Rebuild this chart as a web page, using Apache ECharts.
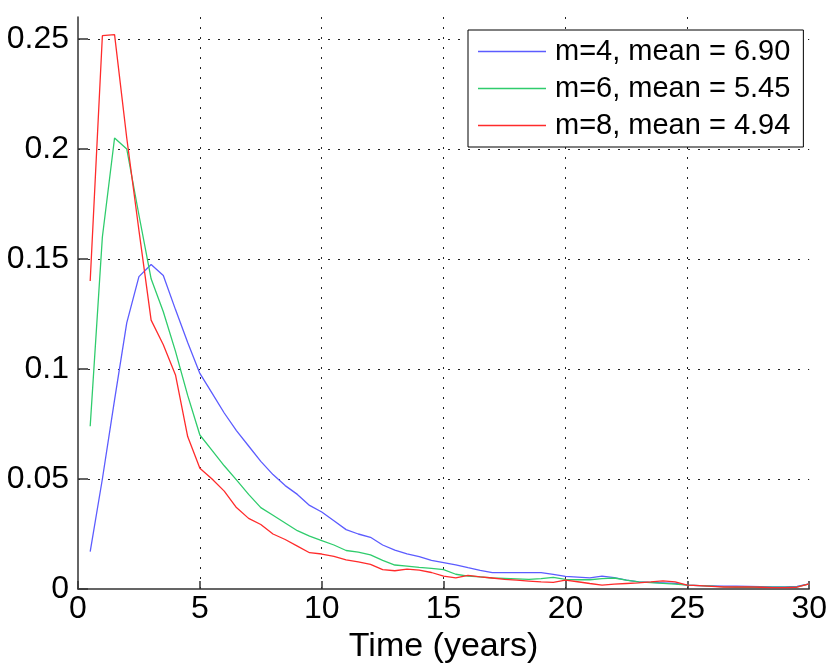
<!DOCTYPE html>
<html>
<head>
<meta charset="utf-8">
<script src="https://cdn.jsdelivr.net/npm/echarts@6/dist/echarts.min.js"></script>
<style>
  html, body { margin: 0; padding: 0; background: #fff; }
  #chart { width: 830px; height: 669px; }
</style>
</head>
<body>
<div id="chart"></div>
<script>
// time points (years), sampled every half year
const times = [0.5, 1, 1.5, 2, 2.5, 3, 3.5, 4, 4.5, 5, 5.5, 6, 6.5, 7, 7.5, 8, 8.5, 9, 9.5, 10,
  10.5, 11, 11.5, 12, 12.5, 13, 13.5, 14, 14.5, 15, 15.5, 16, 16.5, 17, 17.5, 18, 18.5, 19, 19.5, 20,
  20.5, 21, 21.5, 22, 22.5, 23, 23.5, 24, 24.5, 25, 25.5, 26, 26.5, 27, 27.5, 28, 28.5, 29, 29.5, 30]

const seriesNames = ['m=4, mean = 6.90', 'm=6, mean = 5.45', 'm=8, mean = 4.94']

const m4 = [0.017, 0.05, 0.086, 0.121, 0.142, 0.1475, 0.1425, 0.127, 0.112, 0.098,
  0.089, 0.080, 0.072, 0.065, 0.058, 0.052, 0.047, 0.043, 0.038, 0.035,
  0.031, 0.027, 0.025, 0.0235, 0.020, 0.0177, 0.016, 0.0147, 0.013, 0.012,
  0.011, 0.0097, 0.0085, 0.0074, 0.0074, 0.0074, 0.0074, 0.0074, 0.0066, 0.0057,
  0.0054, 0.0051, 0.0059, 0.0052, 0.004, 0.0032, 0.003, 0.0028, 0.0026, 0.0018,
  0.0015, 0.0014, 0.0013, 0.0013, 0.0012, 0.0011, 0.001, 0.001, 0.0012, 0.0023]

const m6 = [0.074, 0.16, 0.205, 0.2, 0.17, 0.141, 0.126, 0.108, 0.088, 0.070,
  0.063, 0.056, 0.0496, 0.043, 0.037, 0.0335, 0.030, 0.0265, 0.024, 0.022,
  0.020, 0.0175, 0.0168, 0.0155, 0.013, 0.0109, 0.0104, 0.0098, 0.0094, 0.0088,
  0.0067, 0.0059, 0.0055, 0.005, 0.0048, 0.0046, 0.0044, 0.0047, 0.0053, 0.0044,
  0.0042, 0.0042, 0.0047, 0.005, 0.004, 0.0032, 0.0029, 0.0026, 0.0022, 0.0018,
  0.0015, 0.0013, 0.001, 0.0008, 0.0008, 0.0008, 0.0008, 0.0008, 0.001, 0.0023]

const m8 = [0.14, 0.2515, 0.252, 0.205, 0.163, 0.1222, 0.111, 0.0973, 0.0693, 0.0549,
  0.050, 0.0445, 0.037, 0.0321, 0.0293, 0.025, 0.0225, 0.0195, 0.0165, 0.0159,
  0.0148, 0.0132, 0.0123, 0.0112, 0.0088, 0.0083, 0.009, 0.0086, 0.0075, 0.0059,
  0.0051, 0.0062, 0.0055, 0.005, 0.0044, 0.004, 0.0036, 0.0032, 0.003, 0.004,
  0.0033, 0.0025, 0.0018, 0.0022, 0.0025, 0.0028, 0.0032, 0.0037, 0.0032, 0.0018,
  0.0015, 0.0012, 0.0009, 0.0009, 0.001, 0.0008, 0.0006, 0.0006, 0.0008, 0.0023]

const colors = ['#5c5cff', '#2fcc6c', '#ff2b2b']

const pair = (vals) => times.map((t, i) => [t, vals[i]])

const chart = echarts.init(document.getElementById('chart'))

const font = 'Liberation Sans, Arial, sans-serif'

const axisCommon = {
  axisLine: { lineStyle: { color: '#333', width: 1.5 } },
  axisLabel: { color: '#000', fontSize: 32, fontFamily: font },
  splitLine: {
    show: true,
    showMinLine: false,
    showMaxLine: false,
    lineStyle: { color: '#222', type: [2, 8], width: 1 }
  }
}

const option = {
  animation: false,
  color: colors,
  grid: { left: 78, right: 17, top: 17, bottom: 80 },
  legend: {
    orient: 'vertical',
    left: 468,
    top: 30,
    data: seriesNames,
    icon: 'rect',
    backgroundColor: '#fff',
    borderColor: '#000',
    borderWidth: 1,
    borderRadius: 0,
    padding: [7, 13, 7, 10],
    itemWidth: 68,
    itemHeight: 1.6,
    itemGap: 8,
    textStyle: { color: '#000', fontSize: 29, fontFamily: font, lineHeight: 29, padding: [0, 0, 0, 4] }
  },
  xAxis: {
    type: 'value',
    min: 0,
    max: 30,
    interval: 5,
    name: 'Time (years)',
    nameLocation: 'middle',
    nameGap: 40,
    nameTextStyle: { color: '#000', fontSize: 34, fontFamily: font },
    ...axisCommon,
    axisTick: { inside: true, length: 8, lineStyle: { color: '#333', width: 1.5 } },
    axisLabel: { ...axisCommon.axisLabel, margin: 4 }
  },
  yAxis: {
    type: 'value',
    min: 0,
    max: 0.26,
    interval: 0.05,
    ...axisCommon,
    axisTick: { inside: true, length: 10, lineStyle: { color: '#333', width: 1.5 } },
    axisLabel: { ...axisCommon.axisLabel, margin: 9, showMaxLabel: false }
  },
  series: [
    { name: seriesNames[0], type: 'line', data: pair(m4), symbol: 'none', lineStyle: { width: 1.3 } },
    { name: seriesNames[1], type: 'line', data: pair(m6), symbol: 'none', lineStyle: { width: 1.3 } },
    { name: seriesNames[2], type: 'line', data: pair(m8), symbol: 'none', lineStyle: { width: 1.3 } }
  ]
}

chart.setOption(option)
</script>
</body>
</html>
